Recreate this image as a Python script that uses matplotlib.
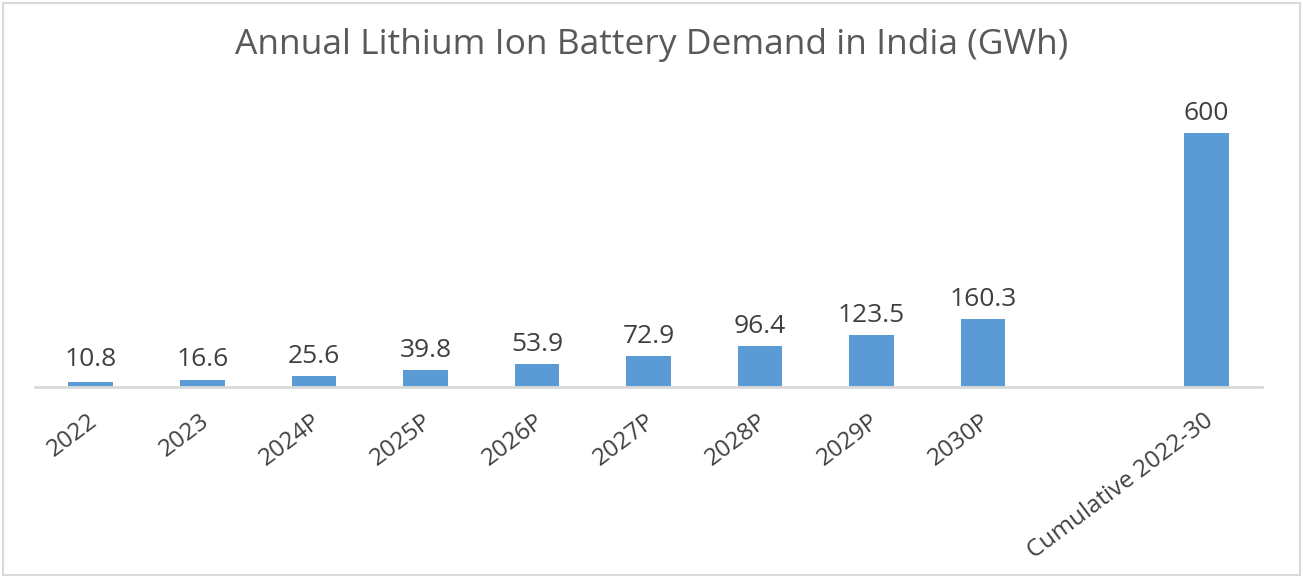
import matplotlib
matplotlib.use("Agg")
import matplotlib.pyplot as plt
from matplotlib.patches import Rectangle
import matplotlib.transforms as mtransforms

categories = ["2022", "2023", "2024P", "2025P", "2026P", "2027P", "2028P", "2029P", "2030P", "", "Cumulative 2022-30"]
values = [10.8, 16.6, 25.6, 39.8, 53.9, 72.9, 96.4, 123.5, 160.3, None, 600]
labels = ["10.8", "16.6", "25.6", "39.8", "53.9", "72.9", "96.4", "123.5", "160.3", "", "600"]
title = "Annual Lithium Ion Battery Demand in India (GWh)"

plt.rcParams['font.family'] = ['Open Sans', 'DejaVu Sans']

W, H = 1303, 578
fig = plt.figure(figsize=(W / 100, H / 100), dpi=100)
fig.patch.set_facecolor("white")
fig.add_artist(Rectangle((3 / W, 3 / H), 1 - 6 / W, 1 - 6 / H, transform=fig.transFigure,
                         fill=False, edgecolor="#D9D9D9", linewidth=1.5))

ax_left, ax_right = 35 / W, 1262 / W
ax_bottom = 1 - 387 / H
ax_top = 1 - 100 / H
ax = fig.add_axes([ax_left, ax_bottom, ax_right - ax_left, ax_top - ax_bottom])

bar_color = "#5B9BD5"
xs = list(range(len(categories)))
for x, v in zip(xs, values):
    if v is not None:
        ax.bar(x, v, width=0.4, color=bar_color, zorder=2)

ymax = 600 * 287 / 254
ax.set_ylim(0, ymax)
ax.set_xlim(-0.5, len(categories) - 0.5)

# labels; small bars get a minimum label height as in the reference
min_lab = ymax * 8 / 287
for x, v, lab in zip(xs, values, labels):
    if v is None:
        continue
    ax.annotate(lab, (x, max(v, min_lab)), xytext=(0, 5), textcoords="offset points",
                ha="center", va="bottom", fontsize=19, color="#404040")

for s in ["top", "right", "left"]:
    ax.spines[s].set_visible(False)
ax.spines["bottom"].set_color("#D9D9D9")
ax.spines["bottom"].set_linewidth(2)
ax.set_yticks([])
ax.set_xticks(xs)
ax.set_xticklabels(categories, rotation=37, ha="right", rotation_mode="anchor",
                   fontsize=17.5, color="#404040")
ax.tick_params(axis="x", length=0, pad=16)
shift = mtransforms.ScaledTranslation(-3 / 100, 0, fig.dpi_scale_trans)
for t in ax.get_xticklabels():
    t.set_transform(t.get_transform() + shift)

fig.text(0.5, 1 - 45 / H, title, ha="center", va="center", fontsize=25.5, color="#595959")

fig.savefig("out.png", dpi=100)
